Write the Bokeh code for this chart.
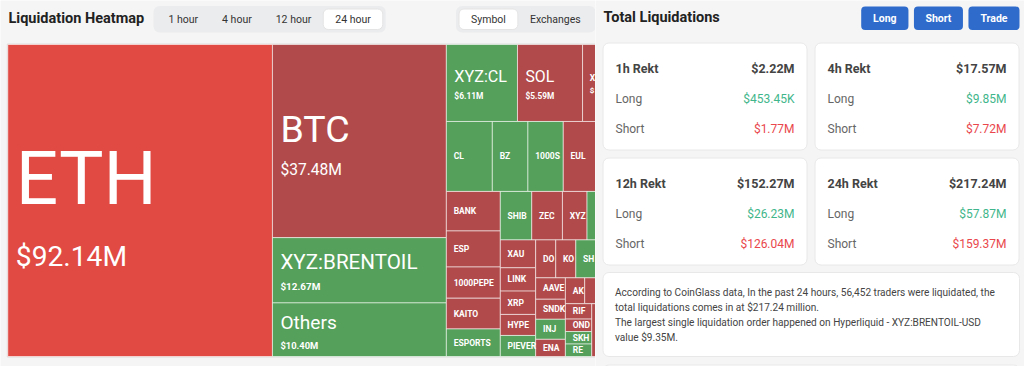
import math
from bokeh.plotting import figure
from bokeh.models import ColumnDataSource, Range1d
from bokeh.layouts import row
from bokeh.core.properties import value, field
from bokeh.embed import file_html
from bokeh.resources import INLINE

# ---------------- data ----------------
# treemap tiles, in the order the heatmap lays them out (values in $M)
# names are the texts that can be read in the picture; "" = tile whose label is not visible
symbols = ["ETH", "BTC", "XYZ:BRENTOIL", "Others", "XYZ:CL", "SOL", "X",
           "CL", "BZ", "1000SH", "EUL", "",
           "BANK", "ESP", "1000PEPE", "KAITO", "ESPORTS",
           "SHIB", "ZEC", "XYZ", "", "",
           "XAU", "LINK", "XRP", "HYPE", "PIEVER",
           "DO", "KO", "SH", "",
           "AAVE", "SNDK", "INJ", "ENA",
           "AK", "", "", "",
           "RIF", "OND", "SKH", "RE", ""]
liq_musd = [92.14, 37.48, 12.67, 10.40, 6.11, 5.59, 4.23,
            3.59, 2.78, 2.76, 2.70, 2.65,
            2.38, 2.17, 1.88, 1.85, 1.66,
            1.70, 1.66, 1.33, 1.21, 1.21,
            1.10, 0.92, 0.92, 0.83, 0.83,
            0.85, 0.85, 0.85, 1.52,
            0.71, 0.665, 0.665, 0.57,
            0.557, 0.453, 0.453, 0.453,
            0.452, 0.367, 0.367, 0.367, 2.36]
dominant = ["short+", "short", "long", "long", "long", "short", "short",
            "long", "long", "long", "short", "short",
            "short", "short", "short", "short", "long",
            "long", "short", "short", "long", "short",
            "short", "short", "short", "short", "long",
            "short", "short", "long", "short",
            "short", "short", "long", "short",
            "short", "short", "short", "long",
            "short", "short", "long", "long", "short"]

periods = ["1h", "4h", "12h", "24h"]
period_total = [2.22, 17.57, 152.27, 217.24]
period_long = [0.45345, 9.85, 26.23, 57.87]
period_short = [1.77, 7.72, 126.04, 159.37]

traders_liquidated = 56452
largest_exchange = "Hyperliquid"
largest_pair = "XYZ:BRENTOIL-USD"
largest_order = 9.35

time_tabs = ["1 hour", "4 hour", "12 hour", "24 hour"]
active_time = "24 hour"
view_tabs = ["Symbol", "Exchanges"]
active_view = "Symbol"
action_buttons = ["Long", "Short", "Trade"]

# ---------------- style ----------------
FONT = value("Roboto")
BG = "#f5f5f5"
TILE_COLORS = {"short+": "#e04a43", "short": "#b14b4b", "long": "#55a05a"}
GREEN_TXT = "#3fb68b"
RED_TXT = "#e9474c"
BLUE = "#2e6bcb"
SHIFT = 0.36          # renderer places the alphabetic baseline ~0.36em lower; compensate
LEFT_W = 595          # visible width of the heatmap panel

CW = {c: 0.5615 for c in "0123456789$"}
CW.update({"A": .652, "B": .623, "C": .651, "D": .656, "E": .568, "F": .553, "G": .681,
           "H": .713, "I": .272, "J": .552, "K": .627, "L": .538, "M": .873, "N": .713,
           "O": .688, "P": .631, "Q": .688, "R": .615, "S": .594, "T": .597, "U": .648,
           "V": .636, "W": .887, "X": .627, "Y": .600, "Z": .599, ":": .242, ".": .263,
           " ": .248, "a": .544, "b": .56, "c": .523, "d": .56, "e": .53, "f": .347,
           "g": .56, "h": .552, "i": .243, "j": .239, "k": .506, "l": .242, "m": .876,
           "n": .552, "o": .57, "p": .56, "q": .56, "r": .338, "s": .515, "t": .327,
           "u": .551, "v": .484, "w": .751, "x": .495, "y": .48, "z": .495, "-": .276,
           ",": .196})


def text_w(s, fs, bold=False):
    return sum(CW.get(c, 0.56) for c in s) * fs * (1.04 if bold else 1.0)


def fit(s, fs, avail, bold, frac=0.6):
    out, x = "", 0.0
    for c in s:
        cw = CW.get(c, 0.56) * fs * (1.04 if bold else 1.0)
        if x + frac * cw > avail:
            break
        out += c
        x += cw
    return out


def bl(y, fs):
    return y - SHIFT * fs


def usd(m):
    return f"${m * 1000:,.2f}K" if m < 1 else f"${m:,.2f}M"


def base_fig(w, x0):
    p = figure(width=w, height=366, x_range=Range1d(x0, x0 + w), y_range=Range1d(366, 0),
               toolbar_location=None, output_backend="svg", min_border=0,
               x_axis_location=None, y_axis_location=None,
               background_fill_color=BG, border_fill_color=BG, outline_line_color=None)
    p.grid.visible = False
    return p


# ---------------- treemap layout (squarify, golden ratio) ----------------
PHI = (1 + 5 ** 0.5) / 2


def squarify(vals, x0, y0, x1, y1):
    rects = [None] * len(vals)
    n = len(vals)
    i0 = i1 = 0
    remaining = float(sum(vals))
    while i0 < n:
        dx, dy = x1 - x0, y1 - y0
        s = vals[i1]
        i1 += 1
        mn = mx = s
        alpha = max(dy / dx, dx / dy) / (remaining * PHI)
        beta = s * s * alpha
        best = max(mx / beta, beta / mn)
        while i1 < n:
            v = vals[i1]
            s2 = s + v
            mn2, mx2 = min(mn, v), max(mx, v)
            beta = s2 * s2 * alpha
            r = max(mx2 / beta, beta / mn2)
            if r > best:
                break
            s, mn, mx, best = s2, mn2, mx2, r
            i1 += 1
        if dx < dy:
            yb = y0 + dy * s / remaining
            xx = x0
            for i in range(i0, i1):
                w = dx * vals[i] / s
                rects[i] = (xx, y0, xx + w, yb)
                xx += w
            y0 = yb
        else:
            xr = x0 + dx * s / remaining
            yy = y0
            for i in range(i0, i1):
                h = dy * vals[i] / s
                rects[i] = (x0, yy, xr, yy + h)
                yy += h
            x0 = xr
        remaining -= s
        i0 = i1
    return rects


TM_LEFT, TM_TOP, TM_W, TM_H = 7.3, 44.0, 624.0, 312.0
rects = squarify(liq_musd, TM_LEFT, TM_TOP, TM_LEFT + TM_W, TM_TOP + TM_H)

# ---------------- left panel ----------------
left = base_fig(LEFT_W, 0)

left.text(x=[8], y=[bl(23, 14.5)], text=["Liquidation Heatmap"], text_font=FONT,
          text_font_size="14.5px", text_font_style="bold", text_color="#222222",
          text_baseline="alphabetic")


def pills(p, labels, active, x_start, fs=10.5, pad=12):
    widths = [text_w(t, fs) + 2 * pad for t in labels]
    total = sum(widths) + 6
    p.quad(left=[x_start], right=[x_start + total], top=[5.5], bottom=[32],
           fill_color="#ebecee", line_color=None, border_radius=6)
    lefts, x = [], x_start + 3
    for w in widths:
        lefts.append(x)
        x += w
    ai = labels.index(active)
    p.quad(left=[lefts[ai]], right=[lefts[ai] + widths[ai]], top=[8.5], bottom=[29],
           fill_color="#ffffff", line_color="#e4e4e4", border_radius=5)
    p.text(x=[l + w / 2 for l, w in zip(lefts, widths)], y=[bl(22.5, fs)] * len(labels),
           text=labels, text_font=FONT, text_font_size=f"{fs}px", text_color="#333333",
           text_align="center", text_baseline="alphabetic")


pills(left, time_tabs, active_time, 153)
pills(left, view_tabs, active_view, 455.5)

# treemap frame + tiles
left.quad(left=[TM_LEFT - 0.5], right=[TM_LEFT + TM_W + 0.5], top=[TM_TOP - 0.5],
          bottom=[TM_TOP + TM_H + 0.5], fill_color="#ffffff", line_color="#dcdcdc")
tiles = ColumnDataSource(dict(
    l=[r[0] for r in rects], t=[r[1] for r in rects], r=[r[2] for r in rects],
    b=[r[3] for r in rects], c=[TILE_COLORS[d] for d in dominant]))
left.quad(left="l", right="r", top="t", bottom="b", fill_color="c", source=tiles,
          line_color="#ffffff", line_alpha=0.55, line_width=1)

# tile labels
SMALL = 8.5
lab = dict(x=[], y=[], text=[], fs=[], style=[])


def label_text(s, fs, x0, x1, tx, bold):
    if x1 > LEFT_W:      # tile runs past the panel edge: keep only what is visible
        return fit(s, fs, LEFT_W - tx + 0.3, bold, frac=1.0)
    return fit(s, fs, x1 - tx - 1, bold)


for name, v, (x0, y0, x1, y1) in zip(symbols, liq_musd, rects):
    if not name:
        continue
    big = v >= 5
    fn = 12 + 0.68 * v if big else SMALL
    bold_n = not big
    tx = x0 + (8 if big else 7.3)
    cy = (y0 + y1) / 2
    if v >= 4:
        fv = 7 + 0.23 * v
        capn, capv = 0.711 * fn, 0.711 * fv
        gap = 0.5 * fn + 3
        top = cy + 0.12 * fn - (capn + gap + capv) / 2
        lab["x"] += [tx, tx]
        lab["y"] += [bl(top + capn, fn), bl(top + capn + gap + capv, fv)]
        lab["text"] += [label_text(name, fn, x0, x1, tx, bold_n),
                        label_text(usd(v), fv, x0, x1, tx, fv < 12)]
        lab["fs"] += [f"{fn:.1f}px", f"{fv:.1f}px"]
        lab["style"] += ["bold" if bold_n else "normal", "bold" if fv < 12 else "normal"]
    else:
        lab["x"].append(tx)
        lab["y"].append(bl(cy + 0.711 * fn / 2, fn))
        lab["text"].append(label_text(name, fn, x0, x1, tx, True))
        lab["fs"].append(f"{fn:.1f}px")
        lab["style"].append("bold")
left.text(x="x", y="y", text="text", source=ColumnDataSource(lab), text_font=FONT,
          text_font_size=field("fs"), text_font_style=field("style"), text_color="#ffffff",
          text_baseline="alphabetic", text_align="left")

# ---------------- right panel ----------------
right = base_fig(1024 - LEFT_W, LEFT_W)
right.text(x=[603], y=[bl(22.5, 14.5)], text=["Total Liquidations"], text_font=FONT,
           text_font_size="14.5px", text_font_style="bold", text_color="#222222",
           text_baseline="alphabetic")

# buttons (laid out from the right edge)
bfs = 10.5
bw = [text_w(t, bfs, True) + 23 for t in action_buttons]
x = 1019.0
b_l, b_r = [], []
for w in reversed(bw):
    b_r.insert(0, x)
    b_l.insert(0, x - w)
    x -= w + 5.5
right.quad(left=b_l, right=b_r, top=[6] * 3, bottom=[29.5] * 3, fill_color=BLUE,
           line_color=None, border_radius=4)
right.text(x=[(a + b) / 2 for a, b in zip(b_l, b_r)], y=[bl(21.5, bfs)] * 3, text=action_buttons,
           text_font=FONT, text_font_size=f"{bfs}px", text_font_style="bold",
           text_color="#ffffff", text_align="center", text_baseline="alphabetic")

# period cards
CARD_L = [602.5, 814.5]
CARD_T = [42.5, 157.5]
CW_, CH_ = 204.0, 107.0
cl = [CARD_L[i % 2] for i in range(4)]
ct = [CARD_T[i // 2] for i in range(4)]
right.quad(left=cl, right=[c + CW_ for c in cl], top=ct, bottom=[t + CH_ for t in ct],
           fill_color="#ffffff", line_color="#e8e8e8", border_radius=6)
right.quad(left=[602.5, 602.5], right=[1019, 1019], top=[272, 364.5], bottom=[356, 430],
           fill_color="#ffffff", line_color="#e8e8e8", border_radius=6)

H1, H2 = 12.5, 12.0
right.text(x=[c + 12.5 for c in cl], y=[bl(t + 30, H1) for t in ct],
           text=[f"{p} Rekt" for p in periods], text_font=FONT, text_font_size=f"{H1}px",
           text_font_style="bold", text_color="#444444", text_baseline="alphabetic")
right.text(x=[c + 191.5 for c in cl], y=[bl(t + 30, H1) for t in ct],
           text=[usd(v) for v in period_total], text_font=FONT, text_font_size=f"{H1}px",
           text_font_style="bold", text_color="#444444", text_baseline="alphabetic",
           text_align="right")
right.text(x=[c + 12.5 for c in cl] * 2,
           y=[bl(t + 60.5, H2) for t in ct] + [bl(t + 90.5, H2) for t in ct],
           text=["Long"] * 4 + ["Short"] * 4, text_font=FONT, text_font_size=f"{H2}px",
           text_color="#666666", text_baseline="alphabetic")
right.text(x=[c + 191.5 for c in cl], y=[bl(t + 60.5, H2) for t in ct],
           text=[usd(v) for v in period_long], text_font=FONT, text_font_size=f"{H2}px",
           text_color=GREEN_TXT, text_baseline="alphabetic", text_align="right")
right.text(x=[c + 191.5 for c in cl], y=[bl(t + 90.5, H2) for t in ct],
           text=[usd(v) for v in period_short], text_font=FONT, text_font_size=f"{H2}px",
           text_color=RED_TXT, text_baseline="alphabetic", text_align="right")

summary = [
    f"According to CoinGlass data, In the past 24 hours, {traders_liquidated:,} traders were liquidated, the",
    f"total liquidations comes in at ${period_total[-1]:.2f} million.",
    f"The largest single liquidation order happened on {largest_exchange} - {largest_pair}",
    f"value ${largest_order:.2f}M.",
]
SF = 10.1
right.text(x=[614.5] * 4, y=[bl(295.3 + 15.2 * i, SF) for i in range(4)], text=summary,
           text_font=FONT, text_font_size=f"{SF}px", text_color="#444444",
           text_baseline="alphabetic")

layout = row(left, right)
open("out.html", "w").write(file_html(layout, INLINE))
